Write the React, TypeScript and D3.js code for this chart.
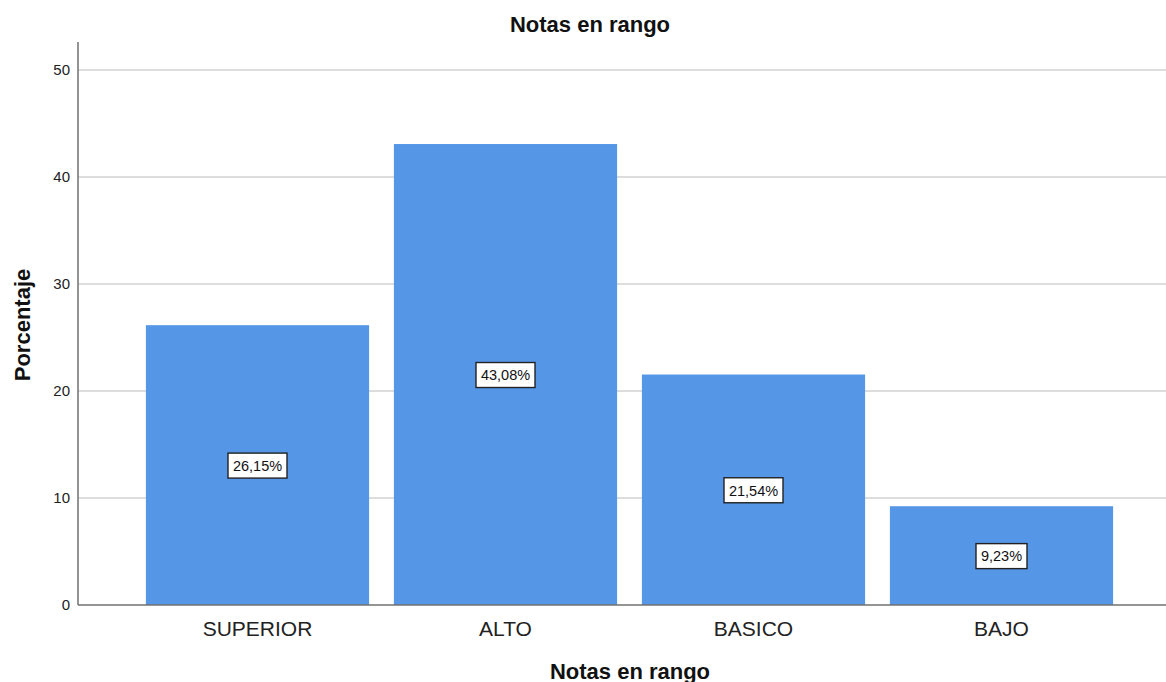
import { useEffect, useRef } from "react";
import * as d3 from "d3";

const categorias = ["SUPERIOR", "ALTO", "BASICO", "BAJO"];
const porcentajes = [26.15, 43.08, 21.54, 9.23];
const ticksY = [0, 10, 20, 30, 40, 50];

const ANCHO = 1166;
const ALTO = 682;
const FUENTE = "Arial, 'Liberation Sans', sans-serif";

export default function App() {
  const svgRef = useRef<SVGSVGElement>(null);

  useEffect(() => {
    if (!svgRef.current) return;
    const svg = d3.select(svgRef.current);
    svg.selectAll("*").remove();

    const izq = 78;
    const arriba = 42;
    const base = 605;

    const y = d3.scaleLinear().domain([0, 50]).range([base, 70]);
    const x = d3
      .scaleBand()
      .domain(categorias)
      .range([133.5, 1125.5])
      .paddingInner(0.1)
      .paddingOuter(0.05);

    // rejilla
    svg
      .append("g")
      .selectAll("line")
      .data(ticksY.filter((t) => t > 0))
      .enter()
      .append("line")
      .attr("x1", izq)
      .attr("x2", ANCHO)
      .attr("y1", (d) => y(d))
      .attr("y2", (d) => y(d))
      .attr("stroke", "#d2d2d2")
      .attr("stroke-width", 1.5);

    // barras
    const datos = categorias.map((c, i) => ({ c, v: porcentajes[i] }));
    svg
      .append("g")
      .selectAll("rect")
      .data(datos)
      .enter()
      .append("rect")
      .attr("x", (d) => x(d.c) || 0)
      .attr("y", (d) => y(d.v))
      .attr("width", x.bandwidth())
      .attr("height", (d) => base - y(d.v))
      .attr("fill", "#5596e6");

    // ejes
    svg
      .append("line")
      .attr("x1", izq)
      .attr("x2", izq)
      .attr("y1", arriba)
      .attr("y2", base)
      .attr("stroke", "#707070")
      .attr("stroke-width", 1.5);
    svg
      .append("line")
      .attr("x1", izq)
      .attr("x2", ANCHO)
      .attr("y1", base)
      .attr("y2", base)
      .attr("stroke", "#707070")
      .attr("stroke-width", 1.5);

    svg
      .append("g")
      .selectAll("text")
      .data(ticksY)
      .enter()
      .append("text")
      .attr("x", izq - 8)
      .attr("y", (d) => y(d))
      .attr("dy", "0.36em")
      .attr("text-anchor", "end")
      .attr("font-family", FUENTE)
      .attr("font-size", 15)
      .attr("fill", "#222")
      .text((d) => String(d));

    svg
      .append("g")
      .selectAll("text")
      .data(categorias)
      .enter()
      .append("text")
      .attr("x", (d) => (x(d) || 0) + x.bandwidth() / 2)
      .attr("y", 636)
      .attr("text-anchor", "middle")
      .attr("font-family", FUENTE)
      .attr("font-size", 21)
      .attr("fill", "#222")
      .text((d) => d);

    // etiquetas de valor
    const etiqueta = svg
      .append("g")
      .selectAll("g")
      .data(datos)
      .enter()
      .append("g")
      .attr(
        "transform",
        (d) => `translate(${(x(d.c) || 0) + x.bandwidth() / 2},${y(d.v / 2)})`
      );
    etiqueta
      .append("rect")
      .attr("x", (d) => (d.v < 10 ? -25.5 : -29.5))
      .attr("y", -12)
      .attr("width", (d) => (d.v < 10 ? 51 : 59))
      .attr("height", 25)
      .attr("fill", "#fff")
      .attr("stroke", "#222")
      .attr("stroke-width", 1.4);
    etiqueta
      .append("text")
      .attr("text-anchor", "middle")
      .attr("dy", "0.4em")
      .attr("font-family", FUENTE)
      .attr("font-size", 14.5)
      .attr("fill", "#111")
      .text((d) => d.v.toFixed(2).replace(".", ",") + "%");

    // títulos
    svg
      .append("text")
      .attr("x", 590)
      .attr("y", 32)
      .attr("text-anchor", "middle")
      .attr("font-family", FUENTE)
      .attr("font-weight", "bold")
      .attr("font-size", 22)
      .attr("fill", "#111")
      .text("Notas en rango");

    svg
      .append("text")
      .attr("x", 630)
      .attr("y", 679)
      .attr("text-anchor", "middle")
      .attr("font-family", FUENTE)
      .attr("font-weight", "bold")
      .attr("font-size", 22)
      .attr("fill", "#111")
      .text("Notas en rango");

    svg
      .append("text")
      .attr("transform", `translate(30,${325}) rotate(-90)`)
      .attr("text-anchor", "middle")
      .attr("font-family", FUENTE)
      .attr("font-weight", "bold")
      .attr("font-size", 22)
      .attr("fill", "#111")
      .text("Porcentaje");
  }, []);

  return (
    <svg
      ref={svgRef}
      width={ANCHO}
      height={ALTO}
      style={{ position: "absolute", left: 0, top: 0, background: "#fff" }}
    />
  );
}
